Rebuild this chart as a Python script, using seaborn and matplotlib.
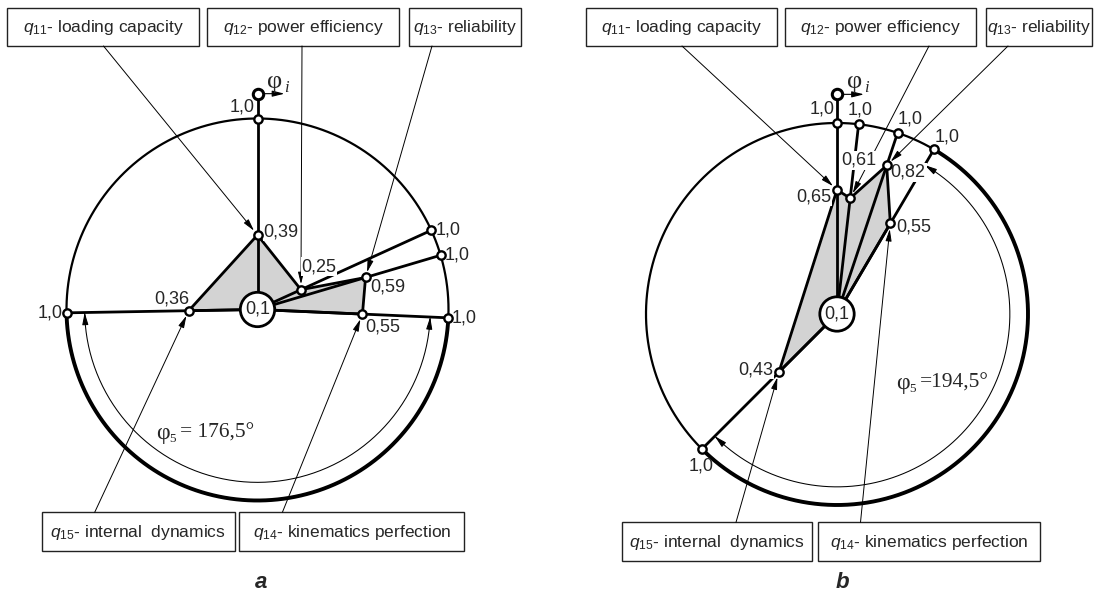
import numpy as np
import pandas as pd
import matplotlib
matplotlib.use("Agg")
import matplotlib.pyplot as plt
import seaborn as sns
from matplotlib import font_manager
from matplotlib.patches import Circle, Rectangle, Polygon

# ---------------- data ----------------
subscripts = ["11", "12", "13", "14", "15"]
criteria_names = ["loading capacity", "power efficiency", "reliability",
                  "kinematics perfection", "internal  dynamics"]
# angular position of each criterion axis (degrees, clockwise from top)
angles_a = [0.0, 65.5, 73.5, 92.5, 269.0]
angles_b = [0.0, 6.5, 18.5, 30.5, 225.0]
# normalised criterion values
values_a = [0.39, 0.25, 0.59, 0.55, 0.36]
values_b = [0.65, 0.61, 0.82, 0.55, 0.43]
value_labels_a = ["0,39", "0,25", "0,59", "0,55", "0,36"]
value_labels_b = ["0,65", "0,61", "0,82", "0,55", "0,43"]
phi5_a = "= 176,5°"
phi5_b = "=194,5°"
max_label = "1,0"
min_label = "0,1"
min_value = 0.09          # radius of central circle (relative)
phi_marker_r = [1.13, 1.15]
panel_letters = ["a", "b"]

# ---------------- style ----------------
sns.set_theme(style="white")
avail = {f.name for f in font_manager.fontManager.ttflist}
NARROW = "Liberation Sans Narrow" in avail
SANS = "Liberation Sans Narrow" if NARROW else "Liberation Sans"
SERIF = "Liberation Serif"
plt.rcParams["font.family"] = [SANS, "DejaVu Sans"]
plt.rcParams["mathtext.fontset"] = "custom"
plt.rcParams["mathtext.rm"] = SANS
plt.rcParams["mathtext.it"] = SANS + ":italic"
plt.rcParams["mathtext.bf"] = SANS + ":bold"
FS = 14.5 if NARROW else 13.0
BFS = 14.5 if NARROW else 12.5

fig = plt.figure(figsize=(10.94, 5.92), dpi=100)
ax = fig.add_axes([0, 0, 1, 1])
ax.set_xlim(0, 1094)
ax.set_ylim(592, 0)
ax.axis("off")

# ---------------- layout (pixels) ----------------
layouts = [
    dict(cx=257.5, cy=309.5, R=191,
         top_boxes=[(7, 199), (207, 399), (408.6, 521)], top_y=(7.5, 46),
         bot_boxes=[(41.7, 235), (239.3, 464.3)], bot_y=(512.3, 551),
         lead=[(103.5, 46), (302, 46), (432, 46), (282.4, 512.3), (94.7, 512.3)],
         voff=[("left", 6, 3), ("center", 18, 23), ("left", 5, -10),
               ("left", 3, -13), ("center", -17, 12)],
         moff=[("right", -3, 11), ("left", 4, 0), ("left", 4, 0),
               ("left", 3, 0), ("right", -4, 0)],
         phi_text=(156, 433), letter=(261.5, 582)),
    dict(cx=837, cy=314, R=191,
         top_boxes=[(586.4, 777.3), (785.3, 976.1), (985.5, 1092)], top_y=(7.5, 46),
         bot_boxes=[(621.7, 812.3), (818, 1040)], bot_y=(522.3, 561),
         lead=[(682, 46), (929, 46), (1008, 46), (860.5, 522.3), (736, 522.3)],
         voff=[("right", -6, -7), ("left", -9, 38), ("left", 4, -7),
               ("left", 6, -4), ("right", -6, 2)],
         moff=[("right", -2, 14), ("center", 2, 14), ("left", 0, 14),
               ("left", 1, 12), ("center", -1, -17)],
         phi_text=(896, 383), letter=(842.3, 582)),
]
panels = [(angles_a, values_a, value_labels_a, phi5_a),
          (angles_b, values_b, value_labels_b, phi5_b)]

PX2PT = 0.72
ARROW = "-|>,head_length=0.6,head_width=0.15"
WHITE_BOX = dict(boxstyle="square,pad=0.05", facecolor="white", edgecolor="none")

for k, ((angs, vals, vlabs, phi5), L) in enumerate(zip(panels, layouts)):
    cx, cy, R = L["cx"], L["cy"], L["R"]
    th = np.deg2rad(angs)
    v = np.asarray(vals)
    px = cx + R * v * np.sin(th)
    py = cy - R * v * np.cos(th)
    ex = cx + R * np.sin(th)
    ey = cy - R * np.cos(th)

    # filled polygon (criteria points + centre)
    poly = [(px[i], py[i]) for i in range(4)] + [(cx, cy), (px[4], py[4])]
    ax.add_patch(Polygon(poly, closed=True, facecolor="#d3d3d3",
                         edgecolor="black", lw=2.0, zorder=2, joinstyle="miter"))

    # radial axes
    for i in range(5):
        ax.plot([cx, ex[i]], [cy, ey[i]], color="black", lw=2.0, zorder=3,
                solid_capstyle="butt")
    tr = phi_marker_r[k]
    tx, ty = cx, cy - R * tr
    ax.plot([ex[0], tx], [ey[0], ty], color="black", lw=2.0, zorder=3)

    # outer circle: thin full circle + thick arc over phi5 sector
    t = np.linspace(0, 2 * np.pi, 400)
    ax.plot(cx + R * np.sin(t), cy - R * np.cos(t), color="black", lw=1.6, zorder=3)
    t2 = np.linspace(th[3], th[4], 300)
    ax.plot(cx + R * np.sin(t2), cy - R * np.cos(t2), color="black", lw=2.8,
            zorder=3, solid_capstyle="butt")

    # inner angle arc phi5 with arrowheads
    ri = 0.905 * R
    ax.plot(cx + ri * np.sin(t2), cy - ri * np.cos(t2), color="black", lw=0.75, zorder=3)
    for tend, tfrom in [(th[3], th[3] + np.deg2rad(4)), (th[4], th[4] - np.deg2rad(4))]:
        ax.annotate("", xy=(cx + ri * np.sin(tend), cy - ri * np.cos(tend)),
                    xytext=(cx + ri * np.sin(tfrom), cy - ri * np.cos(tfrom)),
                    arrowprops=dict(arrowstyle=ARROW, color="black", lw=0.75,
                                    shrinkA=0, shrinkB=0), zorder=4)
    # phi5 label: phi + subscript 5 + value
    fx, fy = L["phi_text"]
    ax.text(fx, fy, "φ", family=SERIF, fontsize=17, ha="left", va="center", zorder=6)
    ax.annotate("5", xy=(fx, fy), xytext=(13.5 * PX2PT, -6 * PX2PT),
                textcoords="offset points", family=SERIF, fontsize=9.5,
                ha="left", va="center", zorder=6)
    ax.annotate(phi5, xy=(fx, fy), xytext=(24 * PX2PT, 0),
                textcoords="offset points", family=SERIF, fontsize=15.5,
                ha="left", va="center", zorder=6)

    # markers (values + unit points + phi marker)
    df = pd.DataFrame({"x": np.concatenate([px, ex]), "y": np.concatenate([py, ey])})
    sns.scatterplot(data=df, x="x", y="y", ax=ax, s=36, color="white",
                    edgecolor="black", linewidth=1.7, zorder=7, legend=False)
    sns.scatterplot(x=[tx], y=[ty], ax=ax, s=56, color="white",
                    edgecolor="black", linewidth=2.2, zorder=7, legend=False)
    ax.set_xlim(0, 1094)
    ax.set_ylim(592, 0)
    ax.set_xlabel("")
    ax.set_ylabel("")

    # phi_i direction arrow and label
    ax.annotate("", xy=(tx + 27, ty), xytext=(tx + 4, ty),
                arrowprops=dict(arrowstyle=ARROW, color="black", lw=0.8,
                                shrinkA=0, shrinkB=0), zorder=6)
    ax.text(tx + 10, ty - 12, "φ", family=SERIF, fontsize=19,
            ha="left", va="center", zorder=6)
    ax.text(tx + 27, ty - 6, "i", family=SERIF, fontsize=12, fontstyle="italic",
            ha="left", va="center", zorder=6)

    # central circle
    ax.add_patch(Circle((cx, cy), min_value * R, facecolor="white", edgecolor="black",
                        lw=2.0, zorder=8))
    ax.text(cx, cy, min_label, fontsize=FS, ha="center", va="center", zorder=9)

    # value labels and unit labels
    for i in range(5):
        ha, dx, dy = L["voff"][i]
        ax.annotate(vlabs[i], xy=(px[i], py[i]), xytext=(dx * PX2PT, dy * PX2PT),
                    textcoords="offset points", ha=ha, va="center", fontsize=FS,
                    bbox=WHITE_BOX, zorder=6.5)
        ha, dx, dy = L["moff"][i]
        ax.annotate(max_label, xy=(ex[i], ey[i]), xytext=(dx * PX2PT, dy * PX2PT),
                    textcoords="offset points", ha=ha, va="center", fontsize=FS,
                    zorder=9)

    # label boxes
    box_specs = [(L["top_boxes"][j], L["top_y"], j) for j in range(3)] + \
                [(L["bot_boxes"][0], L["bot_y"], 4), (L["bot_boxes"][1], L["bot_y"], 3)]
    for (x0, x1), (y0, y1), ci in box_specs:
        ax.add_patch(Rectangle((x0, y0), x1 - x0, y1 - y0, facecolor="white",
                               edgecolor="#222222", lw=1.0, zorder=5))
        ax.text((x0 + x1) / 2, (y0 + y1) / 2 + 1,
                r"$q_{" + subscripts[ci] + r"}$- " + criteria_names[ci],
                fontsize=BFS, ha="center", va="center", zorder=6)

    # leader lines with arrows
    for i in range(5):
        ax.annotate("", xy=(px[i], py[i]), xytext=L["lead"][i],
                    arrowprops=dict(arrowstyle=ARROW, color="black", lw=0.7,
                                    shrinkA=0, shrinkB=4), zorder=6)

    ax.text(L["letter"][0], L["letter"][1], panel_letters[k], family="Liberation Sans",
            fontsize=16, fontweight="bold", fontstyle="italic", ha="center", va="center")

fig.savefig("out.png", dpi=100, facecolor="white")
